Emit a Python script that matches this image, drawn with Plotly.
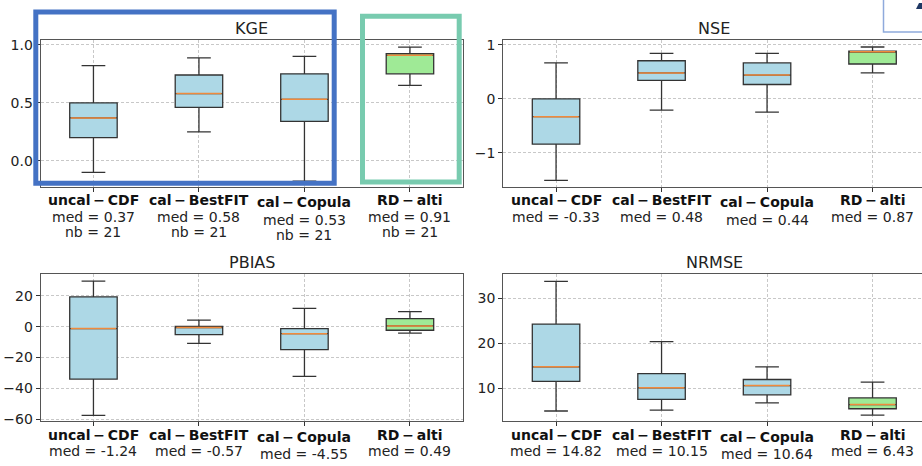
import plotly.graph_objects as go

W, H = 922, 466

categories = ["uncal − CDF", "cal − BestFIT", "cal − Copula", "RD − alti"]
positions = [1, 2, 3, 4]
n_stations = 21

metrics = ["KGE", "NSE", "PBIAS", "NRMSE"]

kge_lo = [-0.10, 0.25, -0.175, 0.65]
kge_q1 = [0.20, 0.46, 0.34, 0.75]
kge_med = [0.37, 0.58, 0.53, 0.91]
kge_q3 = [0.50, 0.74, 0.75, 0.925]
kge_hi = [0.82, 0.887, 0.90, 0.98]

nse_lo = [-1.51, -0.21, -0.245, 0.48]
nse_q1 = [-0.84, 0.34, 0.265, 0.645]
nse_med = [-0.33, 0.48, 0.44, 0.87]
nse_q3 = [0.0, 0.705, 0.665, 0.885]
nse_hi = [0.665, 0.84, 0.84, 0.96]

pbias_lo = [-57.6, -10.8, -32.3, -4.2]
pbias_q1 = [-34.0, -5.1, -14.9, -2.3]
pbias_med = [-1.24, -0.57, -4.55, 0.49]
pbias_q3 = [19.4, 0.2, -1.3, 5.3]
pbias_hi = [29.6, 4.3, 11.9, 9.8]

nrmse_lo = [5.0, 5.2, 6.8, 4.1]
nrmse_q1 = [11.6, 7.6, 8.6, 5.5]
nrmse_med = [14.82, 10.15, 10.64, 6.43]
nrmse_q3 = [24.3, 13.3, 12.0, 7.9]
nrmse_hi = [33.8, 20.4, 14.8, 11.4]

box_colors = ["#ADD8E6", "#ADD8E6", "#ADD8E6", "#9FEA96"]

data = {
    "KGE": (kge_lo, kge_q1, kge_med, kge_q3, kge_hi),
    "NSE": (nse_lo, nse_q1, nse_med, nse_q3, nse_hi),
    "PBIAS": (pbias_lo, pbias_q1, pbias_med, pbias_q3, pbias_hi),
    "NRMSE": (nrmse_lo, nrmse_q1, nrmse_med, nrmse_q3, nrmse_hi),
}

# layout geometry (pixels)
FONT = "DejaVu Sans"
col_x = [(40.7, 462.7), (503.3, 922.0)]
row_y = [(37.7, 188.0), (276.7, 426.0)]
unit_px = 105.5
yranges = {"KGE": [-0.229, 1.042], "NSE": [-1.64, 1.09],
           "PBIAS": [-61.1, 34.0], "NRMSE": [2.83, 35.35]}
ydticks = {"KGE": 0.5, "NSE": 1, "PBIAS": 20, "NRMSE": 10}
yfmt = {"KGE": ".1f", "NSE": "d", "PBIAS": "d", "NRMSE": "d"}
label_y = [(201, 218, 233.5), (440.5, 456.7, None)]
copula_shift = [2.2, 2.5]

fig = go.Figure()
layout = dict(
    width=W, height=H, margin=dict(l=0, r=0, t=0, b=0),
    paper_bgcolor="white", plot_bgcolor="white", showlegend=False,
    font=dict(family=FONT, size=14, color="#222"),
)
annotations = []
box_w = 0.45

for k, m in enumerate(metrics):
    r, c = divmod(k, 2)
    sfx = "" if k == 0 else str(k + 1)
    xa, ya = "x" + sfx, "y" + sfx
    x0p, x1p = col_x[c]
    y0p, y1p = row_y[r]
    xr = [0.5, 0.5 + (x1p - x0p) / unit_px]
    layout["xaxis" + sfx] = dict(
        domain=[x0p / W, x1p / W], range=xr, anchor=ya,
        tickvals=positions, showticklabels=False, ticks="outside", ticklen=4,
        tickcolor="#333", showline=True, linecolor="#555", linewidth=1.2,
        mirror=True, showgrid=True, gridcolor="#c8c8c8", griddash="3px,2px",
        gridwidth=0.8, zeroline=False, fixedrange=True,
    )
    layout["yaxis" + sfx] = dict(
        domain=[1 - y1p / H, 1 - y0p / H], range=yranges[m], anchor=xa,
        dtick=ydticks[m], tick0=0, tickformat=yfmt[m], ticks="outside", ticklen=4,
        tickcolor="#333", showline=True, linecolor="#555", linewidth=1.2,
        mirror=(c == 0), showgrid=True, gridcolor="#c8c8c8", griddash="3px,2px",
        gridwidth=0.8, zeroline=False, tickfont=dict(size=14, color="#222"),
        fixedrange=True,
    )
    lo, q1, med, q3, hi = data[m]
    for i, p in enumerate(positions):
        fig.add_trace(go.Box(
            x=[p], q1=[q1[i]], median=[med[i]], q3=[q3[i]],
            lowerfence=[lo[i]], upperfence=[hi[i]],
            width=box_w, whiskerwidth=0.5, fillcolor=box_colors[i],
            line=dict(color="#333", width=1.3), boxpoints=False,
            xaxis=xa, yaxis=ya, hoverinfo="skip",
        ))
        fig.add_trace(go.Scatter(
            x=[p - box_w / 2 + 0.01, p + box_w / 2 - 0.01], y=[med[i], med[i]],
            mode="lines", line=dict(color="#F08A3C", width=1.5),
            xaxis=xa, yaxis=ya, hoverinfo="skip",
        ))
        ly = label_y[r]
        sh = copula_shift[r] if i == 2 else 0
        annotations.append(dict(
            x=p, y=1 - (ly[0] + sh) / H, xref=xa, yref="paper",
            text="<b>" + categories[i].replace(" − ", "\u2009−\u2009") + "</b>",
            showarrow=False, xanchor="center", yanchor="middle",
            font=dict(size=14, color="#111", family=FONT)))
        annotations.append(dict(
            x=p, y=1 - (ly[1] + sh * 1.3) / H, xref=xa, yref="paper",
            text=f"med = {med[i]:.2f}", showarrow=False,
            xanchor="center", yanchor="middle",
            font=dict(size=14, color="#222", family=FONT)))
        if m == "KGE" and ly[2] is not None:
            annotations.append(dict(
                x=p, y=1 - (ly[2] + sh * 1.6) / H, xref=xa, yref="paper",
                text=f"nb = {n_stations}", showarrow=False,
                xanchor="center", yanchor="middle",
                font=dict(size=14, color="#222", family=FONT)))
    # title
    annotations.append(dict(
        x=(x0p + (x0p + 4 * unit_px)) / 2 / W, y=1 - (25.7 if r == 0 else 264.3) / H,
        xref="paper", yref="paper", text=m, showarrow=False,
        xanchor="center", yanchor="middle",
        font=dict(size=16, color="#222", family=FONT)))

layout["annotations"] = annotations


def px_rect(x0, y0, x1, y1, color, width, fill="rgba(0,0,0,0)"):
    return dict(type="rect", xref="paper", yref="paper",
                x0=x0 / W, x1=x1 / W, y0=1 - y0 / H, y1=1 - y1 / H,
                line=dict(color=color, width=width), fillcolor=fill, layer="above")


shapes = [
    px_rect(35.8, 9.2, 334.2, 183.7, "#4472C4", 5),
    px_rect(362.5, 13.5, 459.2, 182.5, "#78CBAF", 5),
    px_rect(883.5, -5, 930, 29.5, "#8FAADC", 1.5, "white"),
    dict(type="path", xref="paper", yref="paper", layer="above",
         path=f"M {916/W},{1-6/H} L {919/W},{1-0/H} L {923/W},{1-0/H} L {923/W},{1-6/H} Z",
         fillcolor="#1F3864", line=dict(width=0)),
]
layout["shapes"] = shapes

fig.update_layout(**layout)
fig.write_html("out.html")
